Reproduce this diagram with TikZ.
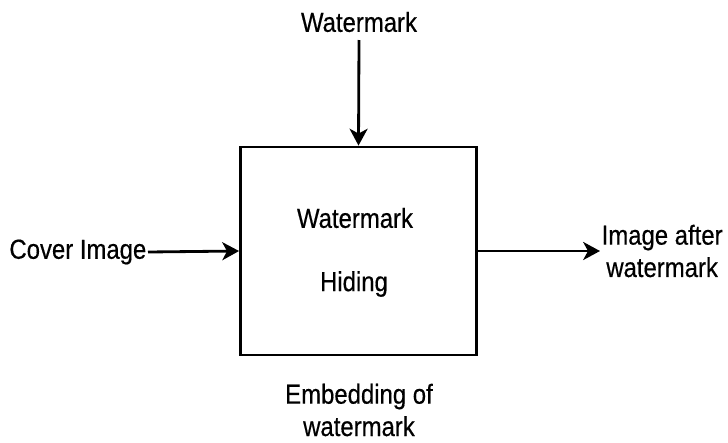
\documentclass[tikz,border=0pt]{standalone}
\usepackage{fontspec}
\setmainfont{Liberation Sans}
\newfontfamily\lblfont[FakeBold=0.5]{Liberation Sans}
\usetikzlibrary{arrows.meta}

\begin{document}
\begin{tikzpicture}[x=0.025cm, y=-0.025cm,
        lbl/.style={font=\lblfont\fontsize{17}{20}\selectfont, inner sep=1pt, yscale=1.15},
        box/.style={draw, line width=2pt, minimum width=5.9cm, minimum height=5.2cm, inner sep=0pt},
        arr/.style={-{Stealth[length=0.42cm, width=0.45cm, inset=0.12cm]}, line width=2pt}]
\useasboundingbox (0,0) rectangle (728,442);

\node[box] (hide) at (358.5,251) {};
\node[lbl] (wmtop) at (359,22) {Watermark};
\node[lbl, anchor=east] (cover) at (148,252) {Cover Image};
\node[lbl, anchor=west, align=center] (result) at (600,251) {Image after\\watermark};

\node[lbl] (wmin) at (355,218) {Watermark};
\node[lbl] (hiding) at (354,284) {Hiding};
\node[lbl, align=center] (embed) at (359,410) {Embedding of\\watermark};

\draw[arr] (wmtop.south |- 0,40) -- (hide.north);
\draw[arr] (cover.east) -- (hide.west);
\draw[arr] (hide.east) -- (hide.east -| result.west);

\end{tikzpicture}
\end{document}
